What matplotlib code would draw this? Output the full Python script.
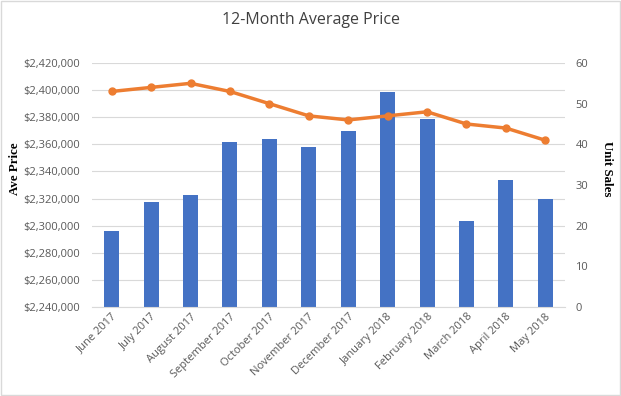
import matplotlib
matplotlib.use("Agg")
import matplotlib.pyplot as plt
from matplotlib.ticker import FuncFormatter, MultipleLocator

months = ['June 2017', 'July 2017', 'August 2017', 'September 2017', 'October 2017',
          'November 2017', 'December 2017', 'January 2018', 'February 2018',
          'March 2018', 'April 2018', 'May 2018']
ave_price = [2296000, 2317400, 2322600, 2361800, 2364000, 2358100,
             2369900, 2398800, 2378800, 2303400, 2333700, 2319600]
unit_sales = [53, 54, 55, 53, 50, 47, 46, 47, 48, 45, 44, 41]

plt.rcParams['font.family'] = ['Open Sans', 'DejaVu Sans']

fig = plt.figure(figsize=(6.21, 3.96), dpi=100)
ax1 = fig.add_axes([92 / 621, 1 - 307 / 396, 473 / 621, 244 / 396])
ax2 = ax1.twinx()

x = range(len(months))
ax1.bar(x, ave_price, width=0.38, color='#4472C4', zorder=2)
ax1.set_ylim(2240000, 2420000)
ax1.yaxis.set_major_locator(MultipleLocator(20000))
ax1.yaxis.set_major_formatter(FuncFormatter(lambda v, p: f"${v:,.0f}"))
ax1.grid(axis='y', color='#D9D9D9', linewidth=0.8, zorder=0)
ax1.set_axisbelow(True)

ax2.plot(x, unit_sales, color='#ED7D31', linewidth=2.5, marker='o', markersize=5, zorder=3)
ax2.set_ylim(0, 60)
ax2.yaxis.set_major_locator(MultipleLocator(10))

ax1.set_xlim(-0.5, len(months) - 0.5)
ax1.set_xticks(list(x))
ax1.set_xticklabels(months, rotation=45, ha='right', rotation_mode='anchor')

for ax in (ax1, ax2):
    for s in ax.spines.values():
        s.set_visible(False)
    ax.tick_params(length=0, colors='#595959', labelsize=8)
ax1.spines['bottom'].set_visible(True)
ax1.spines['bottom'].set_color('#D9D9D9')
ax1.tick_params(axis='y', pad=9)
ax2.tick_params(axis='y', pad=7.5)
ax1.tick_params(axis='x', pad=3)

# axis titles sit a bit above the plot centre, as in the original
fig.text(15 / 621, 1 - 169 / 396, 'Ave Price', family='Liberation Serif', fontweight='bold',
         fontsize=9.3, rotation=90, ha='center', va='center')
fig.text(607 / 621, 1 - 169 / 396, 'Unit Sales', family='Liberation Serif', fontweight='bold',
         fontsize=9.3, rotation=-90, ha='center', va='center')

fig.text(0.5, 1 - 20 / 396, '12-Month Average Price', ha='center', va='center',
         fontsize=11.5, color='#404040')

border = plt.Rectangle((0.002, 0.002), 0.996, 0.996, transform=fig.transFigure,
                       fill=False, edgecolor='#D9D9D9', linewidth=1)
fig.patches.append(border)

fig.savefig('out.png', dpi=100)
